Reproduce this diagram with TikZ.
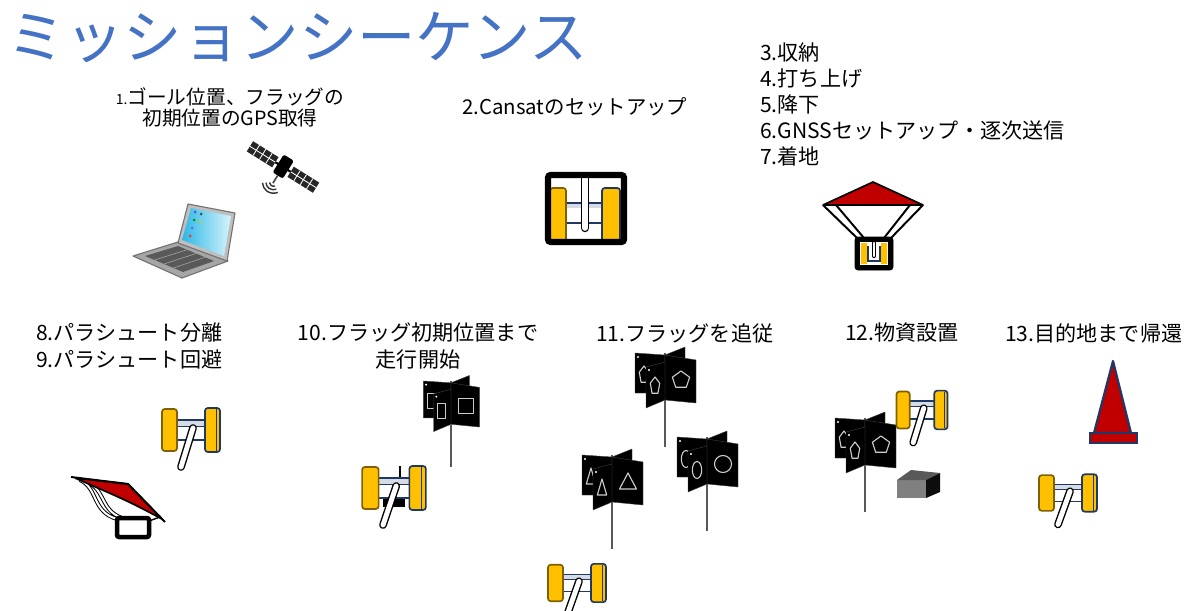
\documentclass[tikz,border=0pt]{standalone}
\usepackage{fontspec}
\setmainfont{Noto Sans CJK JP}
\usetikzlibrary{calc}
\definecolor{titleblue}{HTML}{4472C4}
\definecolor{wheelyellow}{HTML}{FFC000}
\definecolor{rimnavy}{HTML}{1F3864}
\definecolor{rimgold}{HTML}{7F6000}
\definecolor{chutered}{HTML}{C00000}
\definecolor{polegray}{HTML}{595959}
\definecolor{screenblue}{HTML}{2EB8E6}
\definecolor{screenlight}{HTML}{D5F3FC}
\definecolor{bodytop}{HTML}{D6DCE5}

\tikzset{
  wheel/.style={fill=wheelyellow, draw=rimnavy, line width=1.2pt, rounded corners=2pt},
  panel/.style={fill=black, draw=black!75, line width=0.3pt, line join=round},
  sign/.style={draw=white!80!black, line width=0.8pt, line join=round},
  pole/.style={draw=polegray, line width=2pt},
  chute/.style={fill=chutered, draw=black, line width=1.2pt, line join=round},
  cord/.style={draw=black, line width=1.4pt},
  % rover seen from behind: two wheels, body and arm
  pics/rover/.style={code={
    \draw[fill=white, draw=rimnavy, line width=1pt] (-15,-10) rectangle (15,10);
    \fill[bodytop] (-14.5,-9.5) rectangle (14.5,-4);
    \draw[rimnavy, line width=0.5pt] (-14.5,-4) -- (14.5,-4);
    \draw[wheel, draw=rimgold] (-29,-21) rectangle (-14,21);
    \draw[wheel] (14,-22) rectangle (29,22);
    \draw[rimnavy, line width=0.5pt] (25,-21) -- (25,21);
    \draw[line width=5.5pt, line cap=round] (2,-2) -- (-10,37);
    \draw[white, line width=3.5pt, line cap=round] (2,-2) -- (-10,37);
  }},
  pics/pentsign/.style={code={\draw[sign] (0,-9) -- (8.6,-2.8) -- (5.3,7.3) -- (-5.3,7.3) -- (-8.6,-2.8) -- cycle;}},
  pics/circsign/.style={code={\draw[sign] (0,0) circle (8.5);}},
  pics/trisign/.style={code={\draw[sign] (0,-9) -- (8.5,7) -- (-8.5,7) -- cycle;}},
  pics/sqsign/.style={code={\draw[sign] (-7.5,-7.5) rectangle (7.5,7.5);}},
  % three-panel flag on a pole, #1 = sign drawn on the panels
  pics/flag/.style={code={
    \draw[pole] (0,0) -- (0,94);
    \draw[panel] (-30,0) -- (0,2) -- (0,40) -- (-30,40) -- cycle;
    \pic[xscale=0.55] at (-21,22) {#1};
    \fill[white] (-27,4) circle (1.2);
    \draw[panel] (0,2) -- (20,-6) -- (20,12) -- (0,16) -- cycle;
    \draw[panel] (0,2) -- (31,7) -- (31,50) -- (0,47) -- cycle;
    \pic at (16,27) {#1};
    \draw[panel] (-19,14) -- (0,9) -- (0,47) -- (-19,55) -- cycle;
    \pic[xscale=0.55] at (-10,33) {#1};
    \fill[white] (-16,17) circle (1.2);
    \draw[pole] (0,47) -- (0,94);
  }}
}

\begin{document}
\begin{tikzpicture}[x=0.025cm, y=-0.025cm,
  stagetext/.style={font=\fontsize{15}{19}\selectfont, inner sep=0pt, align=left}]
\useasboundingbox[fill=white] (0,0) rectangle (1192,611);

\node[anchor=west, inner sep=0pt, text=titleblue, font=\fontsize{41.5}{48}\selectfont] (title) at (7,38) {ミッションシーケンス};

% stage captions
\node[stagetext, align=center, font=\fontsize{14}{15}\selectfont] (gps) at (230,107)
  {{\fontsize{10}{10}\selectfont 1.}ゴール位置、フラッグの\\初期位置のGPS取得};
\node[stagetext, anchor=west, font=\fontsize{14.5}{18}\selectfont] (setup) at (462,107) {2.Cansatのセットアップ};
\node[stagetext, anchor=west, font=\fontsize{15}{18.5}\selectfont] (launch) at (760,104)
  {3.収納\\4.打ち上げ\\5.降下\\6.GNSSセットアップ・逐次送信\\7.着地};
\node[stagetext, anchor=west] (release) at (36,346) {8.パラシュート分離\\9.パラシュート回避};
\node[stagetext, align=center] (approach) at (418,346) {10.フラッグ初期位置まで\\走行開始};
\node[stagetext, anchor=west] (track) at (596,333) {11.フラッグを追従};
\node[stagetext, anchor=west] (deliver) at (845,333) {12.物資設置};
\node[stagetext, anchor=west] (goback) at (1005,333) {13.目的地まで帰還};

% laptop
\draw[fill=black!35, draw=black!55, line width=0.8pt, line join=round]
  (133,256) -- (178,242) -- (228,261) -- (182,278) -- cycle;
\fill[black!65] (145,256) -- (178,246) -- (214,261) -- (183,272) -- cycle;
\foreach \t in {0.25,0.5,0.75}
  \draw[black!35, line width=0.4pt] ($(145,256)!\t!(183,272)$) -- ($(178,246)!\t!(214,261)$);
\draw[fill=black!25, draw=black!55, line width=0.8pt, line join=round]
  (178,243) -- (188,204) -- (235,213) -- (227,261) -- cycle;
\shade[left color=screenblue, right color=screenlight]
  (182,240) -- (191,208) -- (231,216) -- (224,256) -- cycle;
\fill[blue!70] (195,212) circle (1.5);
\fill[black!70] (201,214) circle (1.5);
\fill[green!60!black] (194,220) circle (1.5);
\fill[yellow!80!black] (200,222) circle (1.5);
\fill[blue!60] (192,228) circle (1.5);
\fill[red!80] (190,236) circle (1.5);

% satellite
\begin{scope}[shift={(283,167)}, rotate=-32]
  \fill[black!85] (-39,-6) rectangle (-9,6);
  \fill[black!85] (9,-6) rectangle (39,6);
  \foreach \u in {-31.5,-24,-16.5,16.5,24,31.5}
    \draw[white, line width=0.6pt] (\u,-6) -- (\u,6);
  \draw[white, line width=0.6pt] (-39,0) -- (-9,0) (9,0) -- (39,0);
  \draw[black, line width=1.5pt] (-9,0) -- (9,0);
  \fill[black, rounded corners=1.5pt] (-6,-11) rectangle (6,10);
  \draw[black!70, line width=1.2pt] (0,10) -- (0,19);
  \foreach \r in {4,7.5,11}
    \draw[black!80, line width=1pt] (0,18) ++(35:\r) arc[start angle=35, end angle=145, radius=\r];
\end{scope}

% cansat in its case
\begin{scope}
  \clip (549,176) rectangle (623,241);
  \draw[fill=white, draw=rimnavy, line width=1pt] (563,203) rectangle (603,223);
  \fill[bodytop] (563.5,203.5) rectangle (602.5,208);
  \draw[wheel, draw=rimgold] (550,188) rectangle (566,246);
  \draw[wheel] (602,188) rectangle (620,246);
  \draw[line width=6pt, line cap=round] (585,172) -- (585,228);
  \draw[white, line width=4pt, line cap=round] (585,172) -- (585,228);
\end{scope}
\draw[line width=4.5pt, rounded corners=2pt] (548,175) rectangle (624,242);

% descending under the parachute
\fill[white] (823,205) -- (923,205) -- (891,238) -- (857,238) -- cycle;
\draw[cord] (823,205) -- (857,238) (836,205) -- (864,238)
  (910,205) -- (884,238) (923,205) -- (891,238);
\draw[chute] (823,205) -- (873,182) -- (923,205) -- cycle;
\draw[fill=black, rounded corners=2pt] (855,237) rectangle (893,270);
\fill[white] (860,242) rectangle (888,265);
\fill[wheelyellow] (861,243) rectangle (867,264) (881,243) rectangle (887,264);
\draw[rimnavy, line width=1.6pt] (868,246) -- (868,261) -- (880,261) -- (880,246);
\draw[line width=3pt, line cap=round] (874,243) -- (874,256);
\draw[white, line width=1.5pt, line cap=round] (874,243) -- (874,256);

% separated parachute and rover
\draw[double=white, double distance=1.4pt, line width=0.7pt]
  (80,480) .. controls (98,488) and (92,512) .. (117,519)
  (86,481) .. controls (106,490) and (100,510) .. (122,518);
\draw[chute] (75,478) -- (128,484) -- (162,519) .. controls (130,502) .. (75,478);
\draw[line width=1.4pt] (71,477) -- (128,484) -- (165,522);
\draw[cord, line width=1pt] (160,517) -- (149,521);
\draw[fill=white, line width=3.2pt, rounded corners=1.5pt] (117,518) rectangle (149,537);
\pic at (191,430) {rover};

% heading to the first flag
\pic[scale=0.92] at (451,381) {flag=sqsign};
\draw[line width=1.6pt] (400,466) -- (400,478);
\fill[black] (383,497) rectangle (405,507);
\pic[xscale=1.1] at (394,488) {rover};

% following the flags
\pic at (665,353) {flag=pentsign};
\pic at (707,437) {flag=circsign};
\pic at (612,455) {flag=trisign};
\pic[yscale=0.87] at (577,583) {rover};

% dropping the payload
\pic at (865,418) {flag=pentsign};
\pic[scale=0.88] at (922,410) {rover};
\fill[black!50] (897,480) rectangle (926,498);
\fill[black!65] (897,480) -- (911,470) -- (940,473) -- (926,480) -- cycle;
\fill[black!95] (926,480) -- (940,473) -- (940,492) -- (926,498) -- cycle;

% back to the goal
\draw[fill=chutered, draw=rimnavy, line width=1.6pt, line join=round]
  (1113,361) -- (1131,433) -- (1094,433) -- cycle;
\draw[fill=chutered, draw=rimnavy, line width=1.6pt] (1090,433) rectangle (1137,443);
\pic[yscale=0.85] at (1068,493) {rover};
\end{tikzpicture}
\end{document}
